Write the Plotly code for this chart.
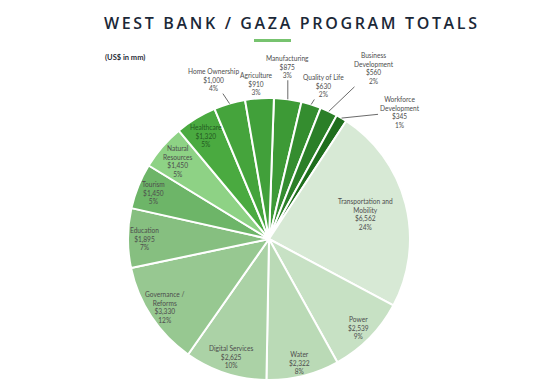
import math
import plotly.graph_objects as go

# ---- data (clockwise from 12 o'clock) ----
categories = ["Manufacturing", "Quality of Life", "Business<br>Development", "Workforce<br>Development",
              "Transportation and<br>Mobility", "Power", "Water", "Digital Services",
              "Governance /<br>Reforms", "Education", "Tourism", "Natural<br>Resources",
              "Healthcare", "Home Ownership", "Agriculture"]
values = [875, 630, 560, 345, 6562, 2539, 2322, 2625, 3330, 1895, 1450, 1450, 1320, 1000, 910]
pct_labels = ["3%", "2%", "2%", "1%", "24%", "9%", "8%", "10%", "12%", "7%", "5%", "5%", "5%", "4%", "3%"]
title_text = "WEST BANK / GAZA PROGRAM TOTALS"
unit_text = "(US$ in mm)"

colors = ["#3d9a36", "#348d2f", "#2b7f28", "#1f6e1d", "#d7e9d5", "#c7e1c4", "#badab6", "#abd2a6",
          "#97c891", "#86bf80", "#6db568", "#8ed285", "#4aaa40", "#45a43c", "#41a03a"]

OFF = 8                      # page body margin
W, H = 547 - OFF, 388 - OFF  # figure size
CX, CY, R = 269 - OFF, 239 - OFF, 141
ROT = 2  # degrees clockwise

fig = go.Figure()
fig.add_trace(go.Pie(
    values=values, labels=[c.replace("<br>", " ") for c in categories],
    sort=False, direction="clockwise", rotation=ROT,
    marker=dict(colors=colors, line=dict(color="white", width=2)),
    textinfo="none", hoverinfo="label+value+percent", showlegend=False,
    domain=dict(x=[(CX - R) / W, (CX + R) / W], y=[1 - (CY + R) / H, 1 - (CY - R) / H]),
))

total = sum(values)
cum = 0
mids = []
for v in values:
    mids.append(ROT + (cum + v / 2) / total * 360)
    cum += v

def pt(angle, rf):
    a = math.radians(angle)
    return CX + R * rf * math.sin(a), CY - R * rf * math.cos(a)

def to_paper(px, py):
    return px / W, 1 - py / H

font_lbl = dict(family="Lato", size=6.6, color="#4d4d4d")
inside_rf = {4: 0.71, 5: 0.89, 6: 0.9, 7: 0.88, 8: 0.88, 9: 0.88, 10: 0.88, 11: 0.85, 12: 0.86}
# outside labels: pixel offsets of label centre from the slice edge point
outside_off = {0: (0, -33), 1: (12, -19), 2: (45, -43), 3: (58, -6), 13: (-16, -24), 14: (-3, -15)}

annotations = []
for i, (c, v, p) in enumerate(zip(categories, values, pct_labels)):
    txt = f"{c}<br>${v:,}<br>{p}"
    if i in inside_rf:
        x, y = to_paper(*pt(mids[i], inside_rf[i]))
        f = dict(font_lbl)
        if i == 12:
            f["color"] = "#245a22"
        annotations.append(dict(x=x, y=y, xref="paper", yref="paper", text=txt, showarrow=False,
                                xanchor="center", yanchor="middle", font=f, align="center"))
    else:
        ex, ey = pt(mids[i], 1.0)
        x, y = to_paper(ex, ey)
        ox, oy = outside_off[i]
        if i == 14:
            annotations.append(dict(x=x, y=y, xref="paper", yref="paper", text=txt, showarrow=False,
                                    xanchor="center", yanchor="middle",
                                    xshift=ox, yshift=-oy, font=font_lbl, align="center"))
        else:
            annotations.append(dict(x=x, y=y, xref="paper", yref="paper", text=txt, showarrow=True,
                                    ax=ox, ay=oy, arrowhead=0, arrowwidth=0.8, arrowcolor="#444444",
                                    standoff=0, startstandoff=0, font=font_lbl, align="center"))

spaced_title = "\u2009".join(title_text)
annotations.append(dict(x=(290 - OFF) / W, y=1 - (23 - OFF) / H, xref="paper", yref="paper",
                        xanchor="center", yanchor="middle",
                        text=spaced_title, showarrow=False,
                        font=dict(family="Open Sans", size=16, color="#1b2838", weight=600)))
annotations.append(dict(x=(125 - OFF) / W, y=1 - (58 - OFF) / H, xref="paper", yref="paper",
                        xanchor="center", yanchor="middle",
                        text=unit_text, showarrow=False,
                        font=dict(family="Lato", size=7.5, color="#1f2a36", weight=700)))

fig.update_layout(
    width=W, height=H, margin=dict(l=0, r=0, t=0, b=0),
    paper_bgcolor="white", plot_bgcolor="white",
    annotations=annotations,
    shapes=[dict(type="rect", xref="paper", yref="paper", x0=(254 - OFF) / W, x1=(291 - OFF) / W,
                 y0=1 - (42 - OFF) / H, y1=1 - (39 - OFF) / H, fillcolor="#77c36f", line=dict(width=0))],
)

fig.write_html("out.html")
